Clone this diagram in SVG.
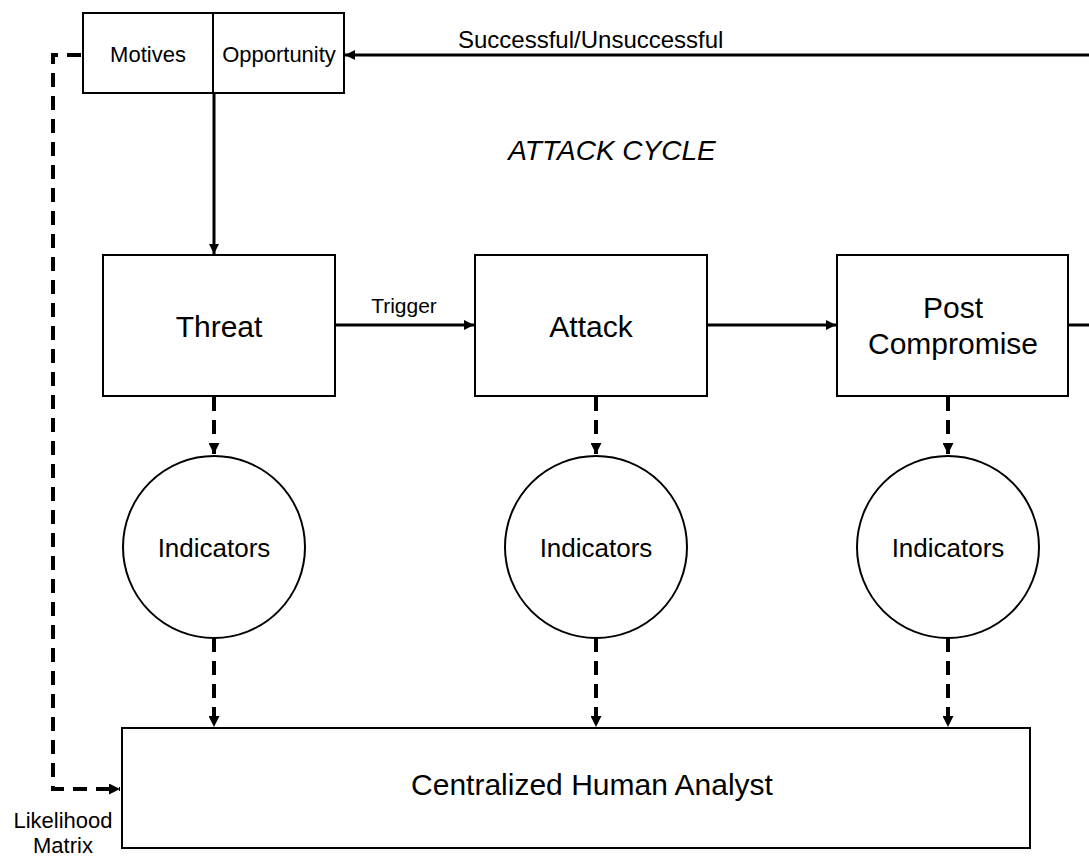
<svg xmlns="http://www.w3.org/2000/svg" width="1089" height="856" viewBox="0 0 1089 856">
<defs>
<marker id="ah" viewBox="0 0 10 10" refX="10" refY="5" markerWidth="10" markerHeight="10" markerUnits="userSpaceOnUse" orient="auto">
<path d="M0,0 L10,5 L0,10 Z" fill="#000"/>
</marker>
<marker id="ahd" viewBox="0 0 10 10" refX="10" refY="5" markerWidth="11" markerHeight="11" markerUnits="userSpaceOnUse" orient="auto">
<path d="M0,0 L10,5 L0,10 Z" fill="#000"/>
</marker>
</defs>
<style>
.box{fill:#fff;stroke:#000;stroke-width:2}
.t{font-family:"Liberation Sans",Arial,sans-serif;fill:#000;text-anchor:middle}
.solid{fill:none;stroke:#000;stroke-width:3}
.dash{fill:none;stroke:#000;stroke-width:4;stroke-dasharray:14 9}
</style>
<rect width="1089" height="856" fill="#fff"/>
<g id="connectors">
<line class="solid" x1="1089" y1="55" x2="345" y2="55" marker-end="url(#ah)"/>
<line class="solid" x1="214" y1="94" x2="214" y2="254" marker-end="url(#ah)"/>
<line class="solid" x1="336" y1="325" x2="474" y2="325" marker-end="url(#ah)"/>
<line class="solid" x1="708" y1="325" x2="836" y2="325" marker-end="url(#ah)"/>
<line class="solid" x1="1069" y1="325" x2="1089" y2="325"/>
<line class="dash" x1="214" y1="397" x2="214" y2="454" marker-end="url(#ahd)"/>
<line class="dash" x1="596" y1="397" x2="596" y2="454" marker-end="url(#ahd)"/>
<line class="dash" x1="948" y1="397" x2="948" y2="454" marker-end="url(#ahd)"/>
<line class="dash" x1="214" y1="638" x2="214" y2="727" marker-end="url(#ahd)"/>
<line class="dash" x1="596" y1="638" x2="596" y2="727" marker-end="url(#ahd)"/>
<line class="dash" x1="948" y1="638" x2="948" y2="727" marker-end="url(#ahd)"/>
<path class="dash" d="M81,55 H53 V789 H120" stroke-dasharray="10 8 14 9" marker-end="url(#ahd)"/>
<text class="t" x="404" y="313" font-size="21">Trigger</text>
<text class="t" x="458" y="48" font-size="24" text-anchor="start" style="text-anchor:start">Successful/Unsuccessful</text>
<text class="t" x="63" y="828" font-size="22">Likelihood</text>
<text class="t" x="63" y="853" font-size="22">Matrix</text>
</g>
<g id="motives-opportunity">
<rect class="box" x="83" y="13" width="261" height="80"/>
<line x1="213" y1="13" x2="213" y2="93" stroke="#000" stroke-width="2"/>
<text class="t" x="148" y="62" font-size="22">Motives</text>
<text class="t" x="279" y="62" font-size="22">Opportunity</text>
</g>
<text class="t" x="612" y="160" font-size="28" font-style="italic">ATTACK CYCLE</text>
<g id="threat">
<rect class="box" x="103" y="255" width="232" height="141"/>
<text class="t" x="219" y="337" font-size="30">Threat</text>
</g>
<g id="attack">
<rect class="box" x="475" y="255" width="232" height="141"/>
<text class="t" x="591" y="337" font-size="30">Attack</text>
</g>
<g id="post-compromise">
<rect class="box" x="837" y="255" width="231" height="141"/>
<text class="t" x="953" y="318" font-size="30">Post</text>
<text class="t" x="953" y="354" font-size="30">Compromise</text>
</g>
<g id="indicators-threat">
<circle class="box" cx="214" cy="547" r="91"/>
<text class="t" x="214" y="557" font-size="26">Indicators</text>
</g>
<g id="indicators-attack">
<circle class="box" cx="596" cy="547" r="91"/>
<text class="t" x="596" y="557" font-size="26">Indicators</text>
</g>
<g id="indicators-post">
<circle class="box" cx="948" cy="547" r="91"/>
<text class="t" x="948" y="557" font-size="26">Indicators</text>
</g>
<g id="analyst">
<rect class="box" x="122" y="728" width="908" height="120"/>
<text class="t" x="592" y="795" font-size="30">Centralized Human Analyst</text>
</g>
</svg>
